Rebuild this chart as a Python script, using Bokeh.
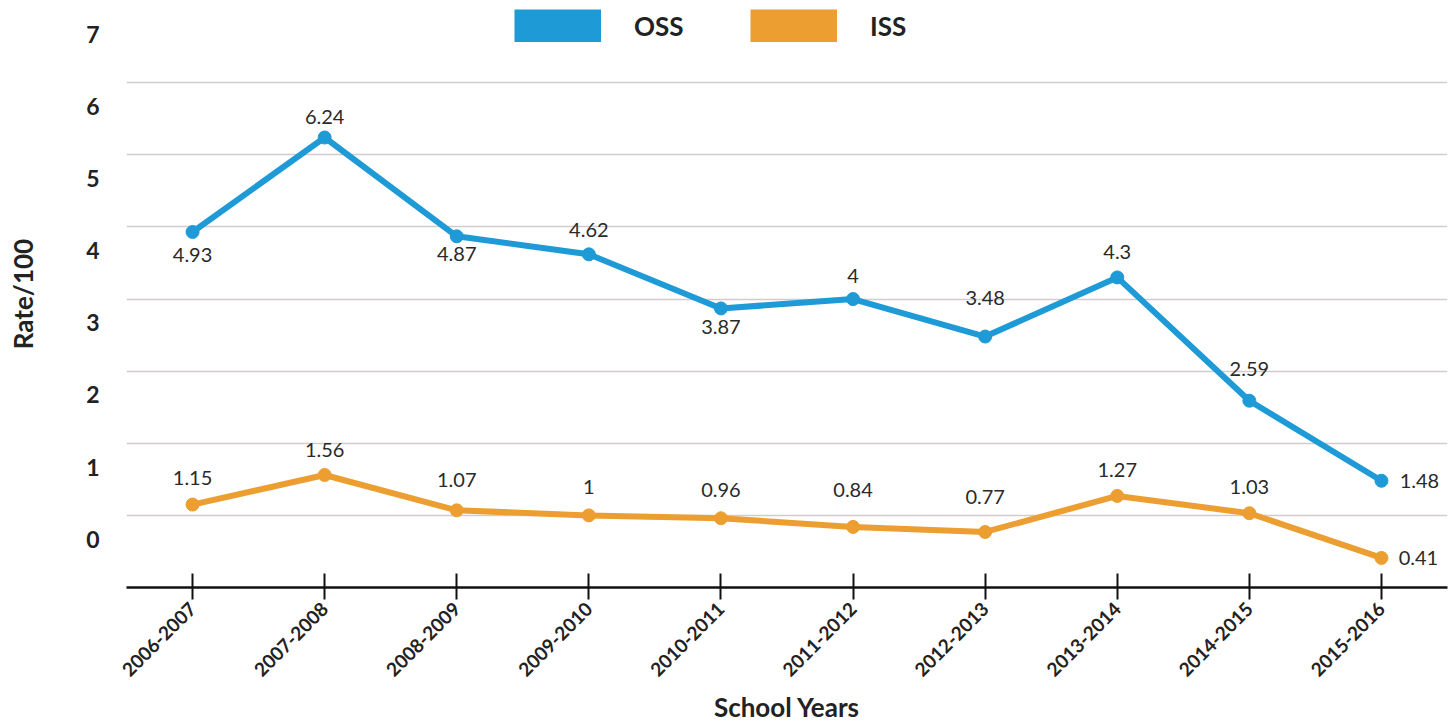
import math
from bokeh.plotting import figure
from bokeh.models import (FactorRange, Range1d, FixedTicker, CustomJSTickFormatter,
                          ColumnDataSource, Legend, LegendItem)
from bokeh.core.properties import value
from bokeh.embed import file_html
from bokeh.resources import INLINE

# ---------------- data ----------------
years = ["2006-2007", "2007-2008", "2008-2009", "2009-2010", "2010-2011",
         "2011-2012", "2012-2013", "2013-2014", "2014-2015", "2015-2016"]
oss = [4.93, 6.24, 4.87, 4.62, 3.87, 4, 3.48, 4.3, 2.59, 1.48]
iss = [1.15, 1.56, 1.07, 1, 0.96, 0.84, 0.77, 1.27, 1.03, 0.41]
oss_text = ["4.93", "6.24", "4.87", "4.62", "3.87", "4", "3.48", "4.3", "2.59", "1.48"]
iss_text = ["1.15", "1.56", "1.07", "1", "0.96", "0.84", "0.77", "1.27", "1.03", "0.41"]
y_tick_labels = [0, 1, 2, 3, 4, 5, 6, 7]
grid_values = [1, 2, 3, 4, 5, 6, 7]

# label placement (screen pixels)
oss_dx = [0, 0, 0, 0, 0, 0, 0, 0, 0, 38]
oss_dy = [23, -21, 18, -24, 19, -23, -39, -25, -32, 0]
iss_dx = [0, 0, 0, 0, 0, 0, 0, 0, 0, 37]
iss_dy = [-27, -25, -30, -28, -28, -37, -35, -26, -26, 0]

BLUE = "#1e9ad6"
ORANGE = "#ec9e30"
FONT = "Lato"
TXT = "#222222"
LABEL_SHIFT = 0.67  # tick labels sit above their gridlines in the original

p = figure(width=1454, height=726,
           x_range=FactorRange(factors=years, range_padding=0),
           y_range=Range1d(0, 8.14),
           output_backend="svg", toolbar_location=None,
           min_border_left=126, min_border_right=7,
           min_border_top=0, min_border_bottom=139)
p.outline_line_color = None
p.background_fill_color = "white"
p.border_fill_color = "white"

# grid
p.xgrid.visible = False
p.ygrid.ticker = FixedTicker(ticks=grid_values)
p.ygrid.grid_line_color = "#d3cbcb"
p.ygrid.grid_line_width = 1.5

# x axis
xa = p.xaxis[0]
xa.axis_line_color = "#111111"
xa.axis_line_width = 2.5
xa.major_tick_line_color = "#111111"
xa.major_tick_line_width = 2
xa.major_tick_in = 14
xa.major_tick_out = 12
xa.minor_tick_line_color = None
xa.major_label_orientation = math.pi / 4
xa.major_label_text_font = FONT
xa.major_label_text_font_style = "bold"
xa.major_label_text_font_size = "19px"
xa.major_label_text_color = TXT
xa.major_label_standoff = 6
xa.axis_label = "School Years"
xa.axis_label_text_font = FONT
xa.axis_label_text_font_style = "bold"
xa.axis_label_text_font_size = "26px"
xa.axis_label_text_color = TXT
xa.axis_label_standoff = 5

# y axis
ya = p.yaxis[0]
ya.ticker = FixedTicker(ticks=[v + LABEL_SHIFT for v in y_tick_labels])
ya.formatter = CustomJSTickFormatter(code="return String(Math.round(tick - %s));" % LABEL_SHIFT)
ya.axis_line_color = None
ya.major_tick_line_color = None
ya.minor_tick_line_color = None
ya.major_label_text_font = FONT
ya.major_label_text_font_style = "bold"
ya.major_label_text_font_size = "23px"
ya.major_label_text_color = TXT
ya.major_label_standoff = 21
ya.axis_label = "Rate/100"
ya.axis_label_text_font = FONT
ya.axis_label_text_font_style = "bold"
ya.axis_label_text_font_size = "26px"
ya.axis_label_text_color = TXT
ya.axis_label_standoff = 44

# series
src_o = ColumnDataSource(dict(x=years, y=oss, t=oss_text, dx=oss_dx, dy=oss_dy))
src_i = ColumnDataSource(dict(x=years, y=iss, t=iss_text, dx=iss_dx, dy=iss_dy))

for src, col in ((src_o, BLUE), (src_i, ORANGE)):
    p.line("x", "y", source=src, line_color=col, line_width=6, line_join="round")
    p.scatter("x", "y", source=src, size=13, fill_color=col, line_color=col)
    p.text("x", "y", text="t", source=src, x_offset="dx", y_offset="dy",
           text_align="center", text_baseline="middle",
           text_font=value(FONT), text_font_size="20px", text_color="#2a2a2a")

# legend swatches (dummy renderers, nothing drawn in the plot)
nan = float("nan")
sw_o = p.line(x=[years[0]], y=[nan], line_color=BLUE, line_width=33)
sw_i = p.line(x=[years[0]], y=[nan], line_color=ORANGE, line_width=33)

def make_legend(label, rend, loc):
    lg = Legend(items=[LegendItem(label=label, renderers=[rend])], location=loc,
                glyph_width=87, glyph_height=33, label_standoff=33,
                padding=0, margin=0, border_line_color=None,
                background_fill_alpha=0,
                label_text_font=FONT, label_text_font_style="bold",
                label_text_font_size="26px", label_text_color=TXT,
                label_text_baseline="middle")
    p.add_layout(lg, "center")

# (x, y) of each legend's lower-left corner inside the frame
make_legend("OSS", sw_o, (388, 545))
make_legend("ISS", sw_i, (624, 545))

open("out.html", "w").write(file_html(p, INLINE))
